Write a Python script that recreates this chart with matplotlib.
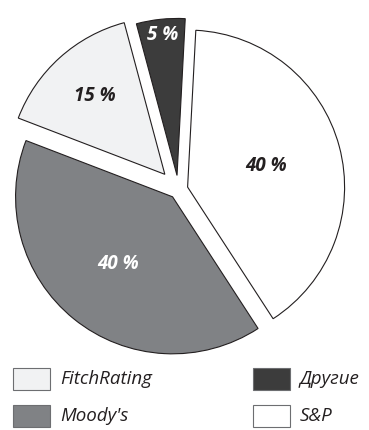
import matplotlib
matplotlib.use("Agg")
import matplotlib.pyplot as plt
from matplotlib.patches import Rectangle
import numpy as np

labels = ["S&P", "Moody's", "FitchRating", "Другие"]
values = [40, 40, 15, 5]
colors = ["#ffffff", "#808285", "#f1f2f3", "#3c3c3c"]
explode = [0.06, 0.06, 0.13, 0.09]
label_dist = [0.52, 0.55, 0.67, 0.90]
label_colors = ["#231f20", "#ffffff", "#231f20", "#ffffff"]

W, H = 369, 430
R = 157.0
cx, cy = 178.5, 189.5

plt.rcParams['font.family'] = ['Open Sans', 'DejaVu Sans']
fig = plt.figure(figsize=(W / 100, H / 100), dpi=100)
ax = fig.add_axes([0, 0, 1, 1])
wedges, _ = ax.pie(values, colors=colors, explode=explode, startangle=87,
                   counterclock=False,
                   wedgeprops=dict(edgecolor="#231f20", linewidth=0.8))
ax.set_xlim(-cx / R, (W - cx) / R)
ax.set_ylim(-(H - cy) / R, cy / R)
ax.axis('off')

for w, v, d, c in zip(wedges, values, label_dist, label_colors):
    ang = np.deg2rad((w.theta1 + w.theta2) / 2)
    x0, y0 = w.center
    ax.text(x0 + d * np.cos(ang), y0 + d * np.sin(ang), f"{v} %",
            ha="center", va="center", fontsize=13.5, fontweight="bold",
            fontstyle="italic", color=c)

# legend
leg_order = [2, 1, 3, 0]
pos = [(13, 368), (13, 405), (253, 368), (253, 405)]
for idx, (px, py) in zip(leg_order, pos):
    fig.add_artist(Rectangle((px / W, 1 - (py + 22) / H), 37 / W, 22 / H,
                             transform=fig.transFigure, facecolor=colors[idx],
                             edgecolor="#6d6e71", linewidth=0.8))
    fig.text((px + 47) / W, 1 - (py + 11) / H, labels[idx], ha="left",
             va="center", fontsize=13.5, fontstyle="italic", color="#231f20")

fig.savefig("out.png", dpi=100)
